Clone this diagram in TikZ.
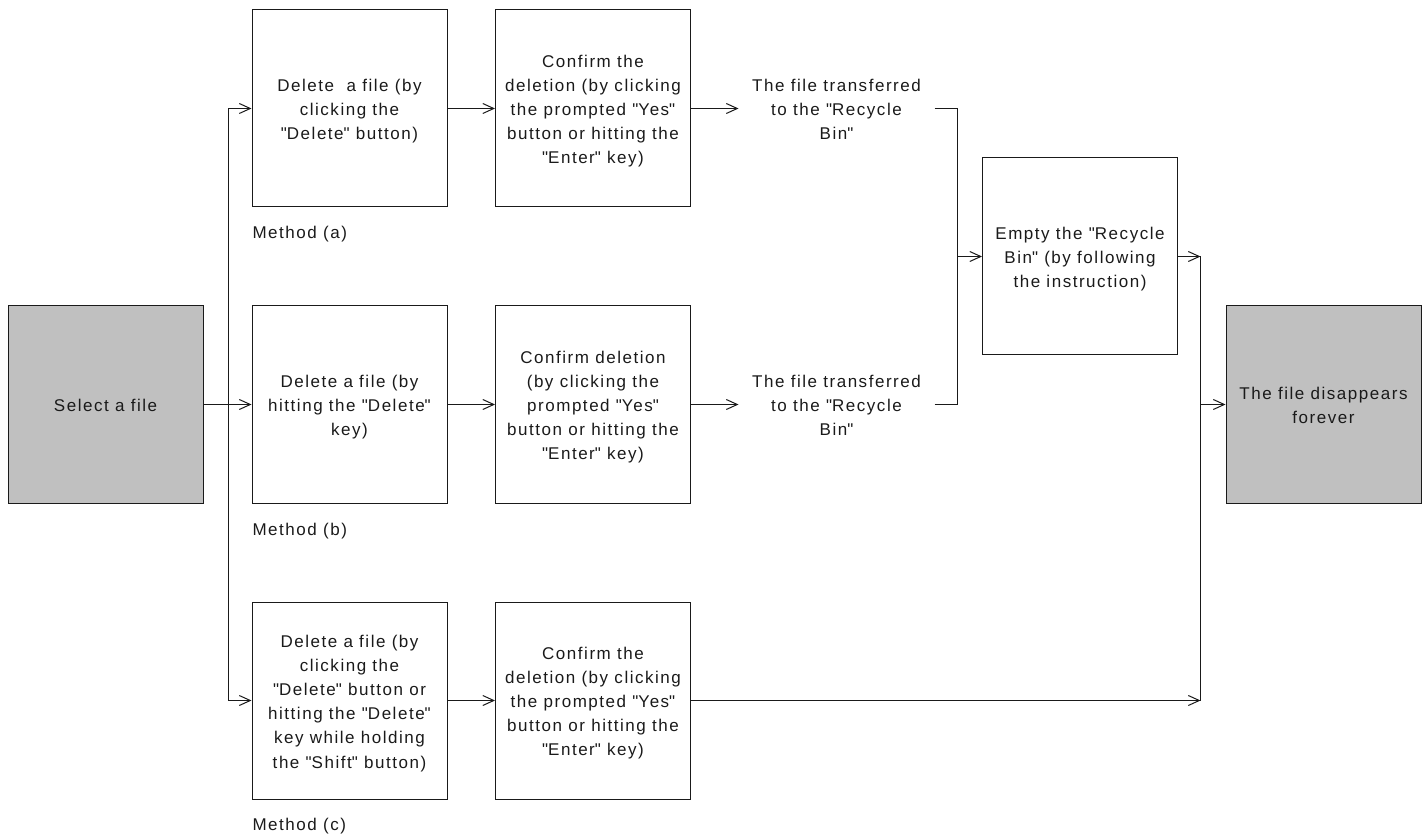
\documentclass[tikz,border=0pt]{standalone}
\usepackage{fontspec}
\setmainfont{Liberation Sans}[LetterSpace=9]
\usetikzlibrary{arrows.meta,calc}
\definecolor{boxgray}{HTML}{C0C0C0}
\definecolor{inkc}{HTML}{1A1A1A}
\newcommand\diafont{\fontsize{17}{24.2}\selectfont}
\newcommand\sq{\textquotedbl}
\newcommand\firststrut{\rule{0pt}{17.6pt}}
\newcommand\laststrut{\rule[-3.6pt]{0pt}{0pt}}
\begin{document}
\begin{tikzpicture}[x=1pt,y=-1pt,line width=1pt,
  txt/.style={align=center, inner sep=0pt, font=\diafont, text=inkc},
  box/.style={txt, draw=inkc, minimum width=195pt, minimum height=197pt},
  grey/.style={box, fill=boxgray},
  plain/.style={txt, minimum width=195pt},
  lbl/.style={anchor=base west, inner sep=0pt, font=\diafont, text=inkc},
  conn/.style={draw=inkc},
  arr/.style={draw=inkc, -{Straight Barb[length=11pt,width=10pt,line width=1pt]}}]
\useasboundingbox (0,0) rectangle (1428,834);

\node[grey] (sel) at (105.5,404.5) {\firststrut Select a file\laststrut};

\node[box] (a1) at (349.5,108.5) {\firststrut Delete\ \ a file (by\\clicking the\\\sq Delete\sq{} button)\laststrut};
\node[box] (a2) at (593,108.5) {\firststrut Confirm the\\deletion (by clicking\\the prompted \sq Yes\sq\\button or hitting the\\\sq Enter\sq{} key)\laststrut};
\node[plain] (at) at (836.5,108.5) {\firststrut The file transferred\\to the \sq Recycle\\Bin\sq\laststrut};
\node[lbl] (ma) at (252,239) {Method (a)};

\node[box] (b1) at (349.5,404.5) {\firststrut Delete a file (by\\hitting the \sq Delete\sq\\key)\laststrut};
\node[box] (b2) at (593,404.5) {\firststrut Confirm deletion\\(by clicking the\\prompted \sq Yes\sq\\button or hitting the\\\sq Enter\sq{} key)\laststrut};
\node[plain] (bt) at (836.5,404.5) {\firststrut The file transferred\\to the \sq Recycle\\Bin\sq\laststrut};
\node[lbl] (mb) at (252,535) {Method (b)};

\node[box] (c1) at (349.5,700.5) {\firststrut Delete a file (by\\clicking the\\\sq Delete\sq{} button or\\hitting the \sq Delete\sq\\key while holding\\the \sq Shift\sq{} button)\laststrut};
\node[box] (c2) at (593,700.5) {\firststrut Confirm the\\deletion (by clicking\\the prompted \sq Yes\sq\\button or hitting the\\\sq Enter\sq{} key)\laststrut};
\node[lbl] (mc) at (252,830.5) {Method (c)};

\node[box] (emp) at (1080,256.5) {\firststrut Empty the \sq Recycle\\Bin\sq{} (by following\\the instruction)\laststrut};
\node[grey] (fin) at (1323.5,404.5) {\firststrut The file disappears\\forever\laststrut};

\coordinate (j0) at ($(sel.east)+(25,0)$);
\coordinate (j1) at ($(emp.west)+(-25,0)$);
\coordinate (j2) at ($(fin.west)+(-25,0)$);
\coordinate (j2t) at (emp.east -| j2);
\coordinate (j2b) at (c2.east -| j2);

% left distribution
\draw[conn] (sel.east) -- (j0);
\draw[arr] (j0) |- (a1.west);
\draw[arr] (j0) -- (b1.west);
\draw[arr] (j0) |- (c1.west);

% rows
\draw[arr] (a1.east) -- (a2.west);
\draw[arr] (a2.east) -- (at.west);
\draw[arr] (b1.east) -- (b2.west);
\draw[arr] (b2.east) -- (bt.west);
\draw[arr] (c1.east) -- (c2.west);

% merge to recycle bin
\draw[conn] (at.east) -| (j1);
\draw[conn] (bt.east) -| (j1);
\draw[arr] (j1) -- (emp.west);

% merge to final
\draw[arr] (emp.east) -- (j2t);
\draw[arr] (c2.east) -- (j2b);
\draw[conn] (j2t) -- (j2b);
\draw[arr] (j2) -- (fin.west);
\end{tikzpicture}
\end{document}
